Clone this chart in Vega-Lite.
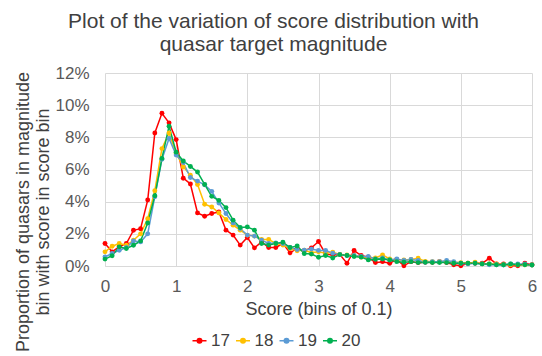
{
  "$schema": "https://vega.github.io/schema/vega-lite/v6.json",
  "width": 427,
  "height": 193,
  "autosize": "none",
  "padding": {"left": 105, "top": 73, "right": 10, "bottom": 90},
  "background": "white",
  "title": {
    "text": ["Plot of the variation of score distribution with", "quasar target magnitude"],
    "font": "Liberation Sans",
    "fontSize": 21,
    "fontWeight": "normal",
    "color": "#404040",
    "anchor": "middle",
    "frame": "group",
    "dx": -45,
    "lineHeight": 23.5,
    "offset": 9
  },
  "config": {
    "view": {"stroke": null},
    "font": "Liberation Sans"
  },
  "datasets": {
    "d": [
      {"m":"17","s":0.0,"p":1.40},{"m":"17","s":0.1,"p":0.88},{"m":"17","s":0.2,"p":1.20},{"m":"17","s":0.3,"p":1.40},{"m":"17","s":0.4,"p":2.22},{"m":"17","s":0.5,"p":2.32},{"m":"17","s":0.6,"p":4.10},{"m":"17","s":0.7,"p":8.27},{"m":"17","s":0.8,"p":9.50},{"m":"17","s":0.9,"p":8.90},
      {"m":"17","s":1.0,"p":7.86},{"m":"17","s":1.1,"p":5.46},{"m":"17","s":1.2,"p":5.10},{"m":"17","s":1.3,"p":3.30},{"m":"17","s":1.4,"p":3.09},{"m":"17","s":1.5,"p":3.26},{"m":"17","s":1.6,"p":3.36},{"m":"17","s":1.7,"p":2.23},{"m":"17","s":1.8,"p":1.92},{"m":"17","s":1.9,"p":1.30},
      {"m":"17","s":2.0,"p":1.77},{"m":"17","s":2.1,"p":1.13},{"m":"17","s":2.2,"p":1.50},{"m":"17","s":2.3,"p":1.15},{"m":"17","s":2.4,"p":1.15},{"m":"17","s":2.5,"p":1.40},{"m":"17","s":2.6,"p":0.82},{"m":"17","s":2.7,"p":1.09},{"m":"17","s":2.8,"p":0.95},{"m":"17","s":2.9,"p":1.13},
      {"m":"17","s":3.0,"p":1.52},{"m":"17","s":3.1,"p":0.75},{"m":"17","s":3.2,"p":0.69},{"m":"17","s":3.3,"p":0.71},{"m":"17","s":3.4,"p":0.17},{"m":"17","s":3.5,"p":0.96},{"m":"17","s":3.6,"p":0.65},{"m":"17","s":3.7,"p":0.55},{"m":"17","s":3.8,"p":0.21},{"m":"17","s":3.9,"p":0.27},
      {"m":"17","s":4.0,"p":0.17},{"m":"17","s":4.1,"p":0.40},{"m":"17","s":4.2,"p":0.02},{"m":"17","s":4.3,"p":0.27},{"m":"17","s":4.4,"p":0.21},{"m":"17","s":4.5,"p":0.23},{"m":"17","s":4.6,"p":0.23},{"m":"17","s":4.7,"p":0.27},{"m":"17","s":4.8,"p":0.21},{"m":"17","s":4.9,"p":0.08},
      {"m":"17","s":5.0,"p":0.02},{"m":"17","s":5.1,"p":0.17},{"m":"17","s":5.2,"p":0.17},{"m":"17","s":5.3,"p":0.17},{"m":"17","s":5.4,"p":0.48},{"m":"17","s":5.5,"p":0.13},{"m":"17","s":5.6,"p":0.13},{"m":"17","s":5.7,"p":0.02},{"m":"17","s":5.8,"p":0.01},{"m":"17","s":5.9,"p":0.17},{"m":"17","s":6.0,"p":0.08},

      {"m":"18","s":0.0,"p":0.88},{"m":"18","s":0.1,"p":1.23},{"m":"18","s":0.2,"p":1.40},{"m":"18","s":0.3,"p":1.29},{"m":"18","s":0.4,"p":1.60},{"m":"18","s":0.5,"p":2.00},{"m":"18","s":0.6,"p":2.94},{"m":"18","s":0.7,"p":4.68},{"m":"18","s":0.8,"p":7.30},{"m":"18","s":0.9,"p":8.27},
      {"m":"18","s":1.0,"p":7.00},{"m":"18","s":1.1,"p":6.16},{"m":"18","s":1.2,"p":5.65},{"m":"18","s":1.3,"p":5.07},{"m":"18","s":1.4,"p":3.84},{"m":"18","s":1.5,"p":3.67},{"m":"18","s":1.6,"p":3.30},{"m":"18","s":1.7,"p":2.89},{"m":"18","s":1.8,"p":2.54},{"m":"18","s":1.9,"p":2.23},
      {"m":"18","s":2.0,"p":1.92},{"m":"18","s":2.1,"p":1.86},{"m":"18","s":2.2,"p":1.65},{"m":"18","s":2.3,"p":1.65},{"m":"18","s":2.4,"p":1.40},{"m":"18","s":2.5,"p":1.30},{"m":"18","s":2.6,"p":1.09},{"m":"18","s":2.7,"p":0.95},{"m":"18","s":2.8,"p":0.99},{"m":"18","s":2.9,"p":0.82},
      {"m":"18","s":3.0,"p":0.88},{"m":"18","s":3.1,"p":0.80},{"m":"18","s":3.2,"p":0.86},{"m":"18","s":3.3,"p":0.71},{"m":"18","s":3.4,"p":0.69},{"m":"18","s":3.5,"p":0.65},{"m":"18","s":3.6,"p":0.55},{"m":"18","s":3.7,"p":0.55},{"m":"18","s":3.8,"p":0.50},{"m":"18","s":3.9,"p":0.69},
      {"m":"18","s":4.0,"p":0.44},{"m":"18","s":4.1,"p":0.38},{"m":"18","s":4.2,"p":0.38},{"m":"18","s":4.3,"p":0.40},{"m":"18","s":4.4,"p":0.48},{"m":"18","s":4.5,"p":0.29},{"m":"18","s":4.6,"p":0.27},{"m":"18","s":4.7,"p":0.27},{"m":"18","s":4.8,"p":0.29},{"m":"18","s":4.9,"p":0.23},
      {"m":"18","s":5.0,"p":0.21},{"m":"18","s":5.1,"p":0.17},{"m":"18","s":5.2,"p":0.23},{"m":"18","s":5.3,"p":0.13},{"m":"18","s":5.4,"p":0.13},{"m":"18","s":5.5,"p":0.13},{"m":"18","s":5.6,"p":0.08},{"m":"18","s":5.7,"p":0.08},{"m":"18","s":5.8,"p":0.08},{"m":"18","s":5.9,"p":0.08},{"m":"18","s":6.0,"p":0.06},

      {"m":"19","s":0.0,"p":0.57},{"m":"19","s":0.1,"p":0.78},{"m":"19","s":0.2,"p":0.98},{"m":"19","s":0.3,"p":1.15},{"m":"19","s":0.4,"p":1.56},{"m":"19","s":0.5,"p":1.50},{"m":"19","s":0.6,"p":2.00},{"m":"19","s":0.7,"p":4.31},{"m":"19","s":0.8,"p":6.63},{"m":"19","s":0.9,"p":7.93},
      {"m":"19","s":1.0,"p":6.90},{"m":"19","s":1.1,"p":6.43},{"m":"19","s":1.2,"p":5.50},{"m":"19","s":1.3,"p":5.28},{"m":"19","s":1.4,"p":5.05},{"m":"19","s":1.5,"p":4.64},{"m":"19","s":1.6,"p":3.92},{"m":"19","s":1.7,"p":3.26},{"m":"19","s":1.8,"p":2.68},{"m":"19","s":1.9,"p":2.33},
      {"m":"19","s":2.0,"p":1.92},{"m":"19","s":2.1,"p":1.86},{"m":"19","s":2.2,"p":1.61},{"m":"19","s":2.3,"p":1.40},{"m":"19","s":2.4,"p":1.44},{"m":"19","s":2.5,"p":1.40},{"m":"19","s":2.6,"p":1.15},{"m":"19","s":2.7,"p":1.03},{"m":"19","s":2.8,"p":0.99},{"m":"19","s":2.9,"p":1.05},
      {"m":"19","s":3.0,"p":0.97},{"m":"19","s":3.1,"p":0.96},{"m":"19","s":3.2,"p":0.80},{"m":"19","s":3.3,"p":0.71},{"m":"19","s":3.4,"p":0.65},{"m":"19","s":3.5,"p":0.65},{"m":"19","s":3.6,"p":0.59},{"m":"19","s":3.7,"p":0.59},{"m":"19","s":3.8,"p":0.44},{"m":"19","s":3.9,"p":0.50},
      {"m":"19","s":4.0,"p":0.38},{"m":"19","s":4.1,"p":0.44},{"m":"19","s":4.2,"p":0.34},{"m":"19","s":4.3,"p":0.40},{"m":"19","s":4.4,"p":0.34},{"m":"19","s":4.5,"p":0.23},{"m":"19","s":4.6,"p":0.27},{"m":"19","s":4.7,"p":0.27},{"m":"19","s":4.8,"p":0.34},{"m":"19","s":4.9,"p":0.27},
      {"m":"19","s":5.0,"p":0.17},{"m":"19","s":5.1,"p":0.13},{"m":"19","s":5.2,"p":0.17},{"m":"19","s":5.3,"p":0.13},{"m":"19","s":5.4,"p":0.08},{"m":"19","s":5.5,"p":0.08},{"m":"19","s":5.6,"p":0.06},{"m":"19","s":5.7,"p":0.13},{"m":"19","s":5.8,"p":0.13},{"m":"19","s":5.9,"p":0.13},{"m":"19","s":6.0,"p":0.06},

      {"m":"20","s":0.0,"p":0.43},{"m":"20","s":0.1,"p":0.64},{"m":"20","s":0.2,"p":1.19},{"m":"20","s":0.3,"p":1.09},{"m":"20","s":0.4,"p":1.29},{"m":"20","s":0.5,"p":1.56},{"m":"20","s":0.6,"p":2.67},{"m":"20","s":0.7,"p":4.37},{"m":"20","s":0.8,"p":6.69},{"m":"20","s":0.9,"p":8.69},
      {"m":"20","s":1.0,"p":7.08},{"m":"20","s":1.1,"p":6.53},{"m":"20","s":1.2,"p":6.19},{"m":"20","s":1.3,"p":5.84},{"m":"20","s":1.4,"p":5.07},{"m":"20","s":1.5,"p":4.33},{"m":"20","s":1.6,"p":4.08},{"m":"20","s":1.7,"p":3.63},{"m":"20","s":1.8,"p":2.85},{"m":"20","s":1.9,"p":2.39},
      {"m":"20","s":2.0,"p":2.43},{"m":"20","s":2.1,"p":2.23},{"m":"20","s":2.2,"p":1.40},{"m":"20","s":2.3,"p":1.30},{"m":"20","s":2.4,"p":1.40},{"m":"20","s":2.5,"p":1.48},{"m":"20","s":2.6,"p":1.15},{"m":"20","s":2.7,"p":1.24},{"m":"20","s":2.8,"p":0.78},{"m":"20","s":2.9,"p":0.74},
      {"m":"20","s":3.0,"p":0.54},{"m":"20","s":3.1,"p":0.65},{"m":"20","s":3.2,"p":0.50},{"m":"20","s":3.3,"p":0.71},{"m":"20","s":3.4,"p":0.65},{"m":"20","s":3.5,"p":0.59},{"m":"20","s":3.6,"p":0.55},{"m":"20","s":3.7,"p":0.38},{"m":"20","s":3.8,"p":0.42},{"m":"20","s":3.9,"p":0.44},
      {"m":"20","s":4.0,"p":0.38},{"m":"20","s":4.1,"p":0.27},{"m":"20","s":4.2,"p":0.23},{"m":"20","s":4.3,"p":0.27},{"m":"20","s":4.4,"p":0.21},{"m":"20","s":4.5,"p":0.23},{"m":"20","s":4.6,"p":0.21},{"m":"20","s":4.7,"p":0.21},{"m":"20","s":4.8,"p":0.21},{"m":"20","s":4.9,"p":0.17},
      {"m":"20","s":5.0,"p":0.17},{"m":"20","s":5.1,"p":0.17},{"m":"20","s":5.2,"p":0.17},{"m":"20","s":5.3,"p":0.13},{"m":"20","s":5.4,"p":0.13},{"m":"20","s":5.5,"p":0.08},{"m":"20","s":5.6,"p":0.08},{"m":"20","s":5.7,"p":0.13},{"m":"20","s":5.8,"p":0.08},{"m":"20","s":5.9,"p":0.08},{"m":"20","s":6.0,"p":0.06}
    ]
  },
  "data": {"name": "d"},
  "mark": {"type": "line", "strokeWidth": 1.5, "point": {"filled": true, "size": 24}},
  "encoding": {
    "x": {
      "field": "s", "type": "quantitative",
      "scale": {"domain": [0, 6], "nice": false, "zero": false},
      "axis": {
        "values": [0, 1, 2, 3, 4, 5, 6],
        "title": "Score (bins of 0.1)",
        "titleFont": "Liberation Sans", "titleFontSize": 18, "titleFontWeight": "normal", "titleColor": "#404040", "titlePadding": 6,
        "labelFont": "Liberation Sans", "labelFontSize": 17, "labelColor": "#595959", "labelPadding": 12,
        "ticks": false, "tickSize": 0,
        "grid": true, "gridColor": "#d9d9d9", "gridWidth": 1,
        "domain": true, "domainColor": "#d9d9d9", "domainWidth": 1,
        "labelFlush": false
      }
    },
    "y": {
      "field": "p", "type": "quantitative",
      "scale": {"domain": [0, 12], "nice": false},
      "axis": {
        "values": [0, 2, 4, 6, 8, 10, 12],
        "labelExpr": "datum.value + '%'",
        "title": ["Proportion of quasars in magnitude", "bin with score in score bin"],
        "titleFont": "Liberation Sans", "titleFontSize": 18, "titleFontWeight": "normal", "titleColor": "#404040",
        "titleLineHeight": 20, "titleX": -73, "titleY": 138.5, "titleAlign": "center", "titleBaseline": "bottom", "titleAngle": -90,
        "labelFont": "Liberation Sans", "labelFontSize": 17, "labelColor": "#595959", "labelPadding": 16,
        "ticks": false, "tickSize": 0,
        "grid": true, "gridColor": "#d9d9d9", "gridWidth": 1,
        "domain": false
      }
    },
    "color": {
      "field": "m", "type": "nominal",
      "scale": {"domain": ["17", "18", "19", "20"], "range": ["#FF0000", "#FFC000", "#5B9BD5", "#00B050"]},
      "legend": {
        "orient": "none", "legendX": 86, "legendY": 259, "direction": "horizontal", "title": null,
        "symbolType": "M-1,0L1,0M-0.32,0A0.32,0.32 0 1,0 0.32,0A0.32,0.32 0 1,0 -0.32,0Z",
        "symbolSize": 196, "symbolStrokeWidth": 1.5,
        "labelFont": "Liberation Sans", "labelFontSize": 17, "labelColor": "#404040", "labelOffset": 3,
        "columnPadding": 2.5, "padding": 0
      }
    }
  }
}
